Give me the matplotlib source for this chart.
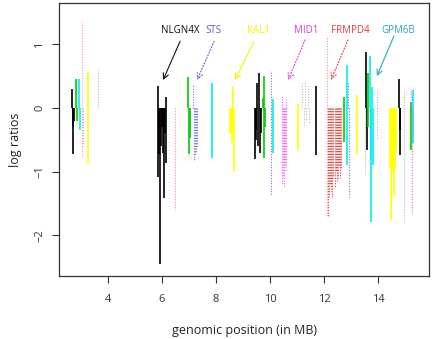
import matplotlib
matplotlib.use("Agg")
import matplotlib.pyplot as plt

plt.rcParams['font.family'] = ['Open Sans', 'DejaVu Sans']

# log ratios per probe, grouped by colour / line type (position in MB, value)
black_x = [2.68, 2.70, 2.72, 2.74,
           5.84, 5.85, 5.88, 5.90, 5.93, 5.96, 5.99, 6.02, 6.05, 6.07, 6.10, 6.13, 6.15,
           9.44, 9.47, 9.50, 9.53, 9.56, 9.60, 9.63, 9.66,
           11.69, 11.70,
           13.57, 13.59,
           14.79, 14.81, 14.83]
black_y = [0.30, -0.72, -0.30, -0.20,
           0.35, -1.08, -0.30, -0.72, -2.46, -0.60, -0.30, -0.70, -0.30, -1.42, -0.40, -0.87, 0.17,
           -0.80, -0.35, -0.50, 0.40, -0.60, 0.55, -0.70, -0.40,
           0.35, -0.74,
           0.88, -0.66,
           0.45, -0.74, -0.35]

green_x = [2.83, 2.85,
           6.98, 7.00, 7.02,
           9.74, 9.76, 9.78, 9.80,
           12.73, 12.75,
           13.62, 13.64,
           15.21, 15.23]
green_y = [0.46, -0.20,
           0.49, -0.72, -0.47,
           0.15, 0.50, -0.79, -0.30,
           0.18, -0.53,
           0.55, -0.30,
           0.10, -0.66]

cyan_x = [2.93, 2.95,
          7.85, 7.86,
          10.10, 10.11,
          12.84, 12.85,
          13.72, 13.74, 13.76, 13.78, 13.80,
          15.30, 15.31]
cyan_y = [0.46, -0.35,
          0.40, -0.79,
          0.14, -0.70,
          0.68, -0.90,
          0.82, -0.82, -1.79, 0.33, -0.90,
          0.28, -0.55]

yellow_x = [3.25, 3.27,
            8.52, 8.55, 8.58, 8.61, 8.64, 8.67,
            11.04, 11.05,
            13.22, 13.23,
            14.44, 14.47, 14.50, 14.53, 14.56, 14.59, 14.62, 14.65]
yellow_y = [0.57, -0.90,
            -0.40, -0.40, -0.55, -0.40, 0.35, -1.00,
            0.07, -0.66,
            0.20, -0.74,
            -0.95, -1.00, -1.76, -0.95, -1.00, -1.40, -0.95, -0.70]

pink_x = [3.03, 3.05, 3.07, 6.48, 12.10, 12.12]
pink_y = [1.35, -0.77, -0.60, -1.60, 1.12, -1.70]

slate_x = [7.16, 7.19, 7.22, 7.25, 7.28, 10.03, 10.04, 12.90, 12.91]
slate_y = [0.36, -0.82, -0.75, -0.70, -0.60, 0.57, -1.37, 0.40, -1.40]

magenta_x = [10.43, 10.46, 10.49, 10.52, 10.55, 10.58, 10.60, 15.24, 15.27]
magenta_y = [0.20, -1.20, -1.10, -1.26, -0.90, -1.00, 0.15, 0.30, -1.65]

red_x = [12.15, 12.19, 12.23, 12.27, 12.31, 12.35, 12.39, 12.43, 12.47, 12.51, 12.55, 12.59, 12.63]
red_y = [-1.70, -1.40, -1.20, -1.30, -1.40, -1.10, -1.25, -1.00, -1.15, -1.10, -0.90, -1.10, -0.95]

grey_x = [3.62, 11.20, 11.25, 11.30, 11.35, 11.40, 11.45, 13.52, 13.95, 13.97, 14.96, 14.98]
grey_y = [0.60, 0.40, -0.30, 0.42, -0.20, 0.35, -0.25, -1.05, 0.30, -0.50, 0.30, -1.80]

genes = ['NLGN4X', 'STS', 'KAL1', 'MID1', 'FRMPD4', 'GPM6B']
gene_colors = ['#111111', '#6a5acd', '#f5f500', '#d63fd6', '#e8383d', '#2aa8c8']
label_x = [6.67, 7.89, 9.56, 11.33, 12.96, 14.74]
label_y = 1.22
arrow_tail_x = [6.67, 7.93, 9.41, 11.30, 12.89, 14.59]
arrow_tail_y = [1.05, 1.05, 1.05, 1.07, 1.07, 1.13]
arrow_head_x = [6.04, 7.30, 8.70, 10.67, 12.26, 13.96]
arrow_head_y = [0.44, 0.44, 0.44, 0.44, 0.44, 0.50]
arrow_dotted = [False, True, False, True, True, False]

fig = plt.figure(figsize=(4.32, 3.39), dpi=100)
ax = fig.add_axes([0.137, 0.186, 0.856, 0.805])

dot = (0, (1, 1.4))
ax.vlines(black_x, 0, black_y, color='black', lw=1.2)
ax.vlines(green_x, 0, green_y, color='#00cc00', lw=1.2)
ax.vlines(cyan_x, 0, cyan_y, color='#00f0f0', lw=1.2)
ax.vlines(yellow_x, 0, yellow_y, color='#ffff00', lw=1.2)
ax.vlines(pink_x, 0, pink_y, color='#ff8fa8', lw=0.8, linestyles=[dot])
ax.vlines(slate_x, 0, slate_y, color='#7070f0', lw=0.8, linestyles=[dot])
ax.vlines(magenta_x, 0, magenta_y, color='#ff55ff', lw=0.8, linestyles=[dot])
ax.vlines(red_x, 0, red_y, color='#ee3333', lw=0.8, linestyles=[dot])
ax.vlines(grey_x, 0, grey_y, color='#bbbbbb', lw=0.8, linestyles=[dot])

for i, g in enumerate(genes):
    ax.text(label_x[i], label_y, g, color=gene_colors[i], fontsize=7,
            ha='center', va='center')
    ax.annotate('', xy=(arrow_head_x[i], arrow_head_y[i]),
                xytext=(arrow_tail_x[i], arrow_tail_y[i]),
                arrowprops=dict(arrowstyle='->', color=gene_colors[i], lw=0.8,
                                linestyle=':' if arrow_dotted[i] else '-',
                                shrinkA=0, shrinkB=0))

ax.set_xlim(2.19, 15.89)
ax.set_ylim(-2.64, 1.65)
ax.set_xticks([4, 6, 8, 10, 12, 14])
ax.set_yticks([-2, -1, 0, 1])
ax.set_yticklabels(['\u22122', '\u22121', '0', '1'], rotation=90, va='center')
ax.tick_params(direction='out', length=5, width=0.8, colors='#333333',
               labelsize=8)
ax.tick_params(axis='x', pad=8)
ax.tick_params(axis='y', pad=5)
for s in ax.spines.values():
    s.set_color('#333333')
    s.set_linewidth(0.9)

ax.set_xlabel('genomic position (in MB)', fontsize=9, labelpad=14, color='#222222')
ax.set_ylabel('log ratios', fontsize=9, labelpad=9, color='#222222')

fig.savefig('out.png', dpi=100)
